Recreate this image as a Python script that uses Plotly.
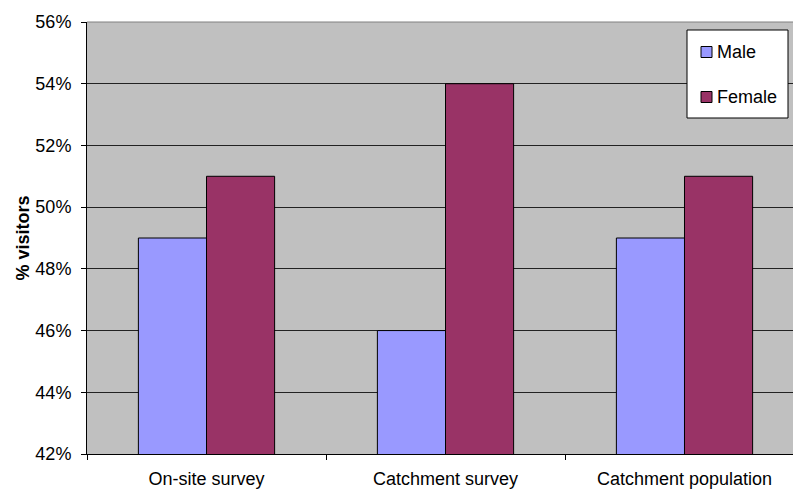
import plotly.graph_objects as go

categories = ["On-site survey", "Catchment survey", "Catchment population"]
series_names = ["Male", "Female"]
male = [49, 46, 49]
female = [51, 54, 51]
y_ticks = [42, 44, 46, 48, 50, 52, 54, 56]
colors = ["#9999FF", "#993366"]

FONT = "Liberation Sans, Arial, sans-serif"

fig = go.Figure()
for name, vals, col in zip(series_names, [male, female], colors):
    fig.add_trace(go.Bar(name=name, x=categories, y=vals,
                         marker=dict(color=col, line=dict(color="black", width=1))))

W, H = 793, 489
ml, mr, mt, mb = 87, 0, 22, 35
pw, ph = W - ml - mr, H - mt - mb

def px_x(x):
    return (x - ml) / pw

def px_y(y):
    return 1 - (y - mt) / ph

shapes = []
annotations = []
# manual legend box
shapes.append(dict(type="rect", xref="paper", yref="paper",
                   x0=px_x(687), x1=px_x(788), y0=px_y(118), y1=px_y(30),
                   fillcolor="white", line=dict(color="black", width=1), layer="above"))
item_y = [52, 97]
for name, col, yy in zip(series_names, colors, item_y):
    shapes.append(dict(type="rect", xref="paper", yref="paper",
                       x0=px_x(701), x1=px_x(712), y0=px_y(yy + 5.5), y1=px_y(yy - 5.5),
                       fillcolor=col, line=dict(color="black", width=1), layer="above"))
    annotations.append(dict(text=name, xref="paper", yref="paper",
                            x=px_x(715), y=px_y(yy), xanchor="left", yanchor="middle",
                            showarrow=False, font=dict(family=FONT, size=18, color="black")))

# plot-area top border (gray, as in the original)
shapes.append(dict(type="line", xref="paper", yref="paper", x0=0, x1=1, y0=1, y1=1,
                   line=dict(color="#808080", width=1), layer="above"))

fig.update_layout(
    width=W, height=H,
    margin=dict(l=ml, r=mr, t=mt, b=mb, autoexpand=False),
    paper_bgcolor="white",
    plot_bgcolor="#C0C0C0",
    barmode="group",
    bargap=0.43,
    bargroupgap=0,
    showlegend=False,
    font=dict(family=FONT, size=18, color="black"),
    shapes=shapes,
    annotations=annotations,
    xaxis=dict(
        range=[-0.5, 2.454], showline=True, linecolor="black", linewidth=1,
        ticks="outside", tickson="boundaries", ticklen=5, tickcolor="black",
        showgrid=False, tickfont=dict(size=18), ticklabelstandoff=8,
        automargin=False,
    ),
    yaxis=dict(
        range=[42, 56], tickvals=y_ticks, ticktext=[f"{v}%" for v in y_ticks],
        showline=True, linecolor="black", linewidth=1,
        ticks="outside", ticklen=5, tickcolor="black",
        showgrid=True, gridcolor="#222222", gridwidth=1,
        zeroline=False, tickfont=dict(size=18), ticklabelstandoff=6,
        title=dict(text="<b>% visitors</b>", font=dict(size=18), standoff=1),
        automargin=False,
    ),
)

fig.write_html("out.html")
